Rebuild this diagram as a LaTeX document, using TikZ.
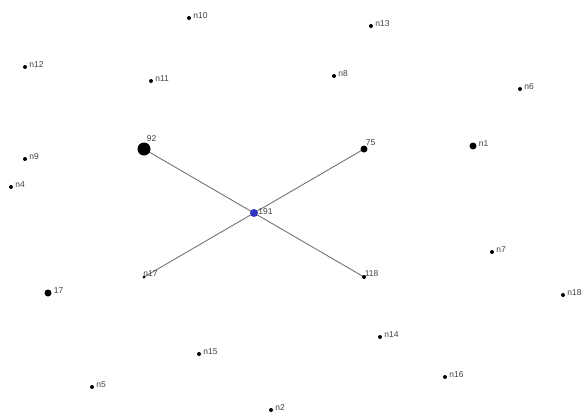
\documentclass[tikz,border=0pt]{standalone}
\usepackage{fontspec}
\setmainfont{Liberation Sans}
\usepackage{tikz}
\usetikzlibrary{positioning}

\begin{document}
\begin{tikzpicture}[x=1pt, y=-1pt,
    vertex/.style={circle, fill=black, inner sep=0pt, minimum size=4pt},
    midvertex/.style={circle, fill=black, inner sep=0pt, minimum size=7pt},
    bigvertex/.style={circle, fill=black, inner sep=0pt, minimum size=13pt},
    hubvertex/.style={circle, fill=blue!70!black!80, inner sep=0pt, minimum size=8pt},
    lbl/.style={font=\fontsize{8.5}{9}\selectfont, text=black!75, inner sep=1pt},
    rlbl/.style={lbl, xshift=1pt, yshift=2pt},
    edge/.style={draw=black!55, line width=0.9pt}]

    \useasboundingbox (0,0) rectangle (586,415);

    % connectors first, so the dots sit on top
    \coordinate (p92) at (144,149);
    \coordinate (p75) at (364,149);
    \coordinate (p191) at (254,213);
    \coordinate (p117) at (144,277);
    \coordinate (p118) at (364,277);
    \draw [edge] (p92) -- (p118);
    \draw [edge] (p75) -- (p117);

    % outer ring of nodes
    \node [vertex, label={[rlbl]right:n10}] (n10) at (189,18) {};
    \node [vertex, label={[rlbl]right:n13}] (n13) at (371,26) {};
    \node [vertex, label={[rlbl]right:n12}] (n12) at (25,67) {};
    \node [vertex, label={[rlbl]right:n11}] (n11) at (151,81) {};
    \node [vertex, label={[rlbl]right:n8}] (n8) at (334,76) {};
    \node [vertex, label={[rlbl]right:n6}] (n6) at (520,89) {};
    \node [midvertex, label={[rlbl]right:n1}] (n1) at (473,146) {};
    \node [vertex, label={[rlbl]right:n9}] (n9) at (25,159) {};
    \node [vertex, label={[rlbl]right:n4}] (n4) at (11,187) {};
    \node [vertex, label={[rlbl]right:n7}] (n7) at (492,252) {};
    \node [vertex, label={[rlbl]right:n18}] (n18) at (563,295) {};
    \node [midvertex, label={[rlbl]right:17}] (n17b) at (48,293) {};
    \node [vertex, label={[rlbl]right:n14}] (n14) at (380,337) {};
    \node [vertex, label={[rlbl]right:n15}] (n15) at (199,354) {};
    \node [vertex, label={[rlbl]right:n16}] (n16) at (445,377) {};
    \node [vertex, label={[rlbl]right:n5}] (n5) at (92,387) {};
    \node [vertex, label={[rlbl]right:n2}] (n2) at (271,410) {};

    % the cross
    \node [bigvertex, label={[lbl, xshift=-3pt, yshift=1pt]above right:92}] (v92) at (p92) {};
    \node [midvertex, label={[lbl, xshift=-2pt, yshift=0pt]above right:75}] (v75) at (p75) {};
    \node [vertex, label={[lbl, xshift=-2pt, yshift=-2pt]above right:118}] (v118) at (p118) {};
    \node [vertex, minimum size=3pt, label={[lbl, xshift=-3pt, yshift=-2pt]above right:n17}] (n17) at (p117) {};
    \node [hubvertex, label={[lbl, xshift=-1pt, yshift=1pt]right:191}] (v191) at (p191) {};

\end{tikzpicture}
\end{document}
